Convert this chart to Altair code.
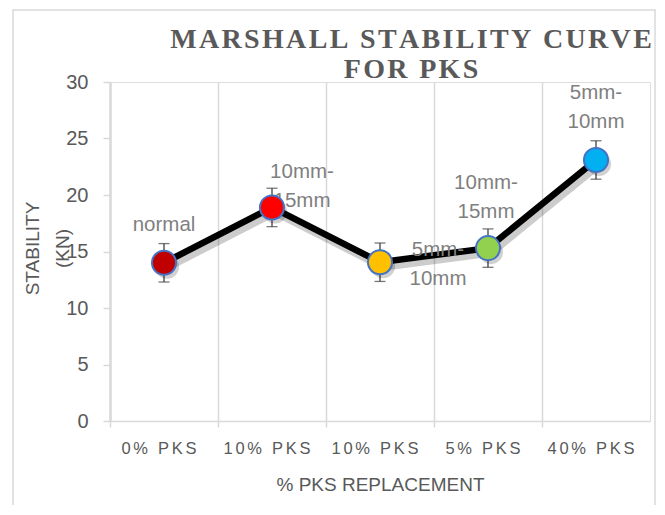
import altair as alt
import pandas as pd

# ---- data ----
categories = ["0% PKS", "10% PKS", "10% PKS", "5% PKS", "40% PKS"]
stability = [14.0, 18.9, 14.05, 15.3, 23.1]
error = [1.7, 1.7, 1.7, 1.7, 1.7]
labels = ["normal", "10mm-\n15mm", "5mm-\n10mm", "10mm-\n15mm", "5mm-\n10mm"]
colors = ["#C00000", "#FF0000", "#FFC000", "#92D050", "#00B0F0"]
y_ticks = [0, 5, 10, 15, 20, 25, 30]

HAIR = "\u200a"
SIXTH = "\u2006"


def spaced(s, sep=HAIR):
    return sep.join(list(s))


slots = [str(i) for i in range(len(categories))]
df = pd.DataFrame({
    "slot": slots,
    "stability": stability,
    "error": error,
    "label": labels,
    "color": colors,
})

label_array = "[" + ",".join("'" + spaced(c, SIXTH) + "'" for c in categories) + "]"

x_enc = alt.X(
    "slot:N",
    sort=slots,
    scale=alt.Scale(type="band", paddingInner=0, paddingOuter=0),
    axis=alt.Axis(
        title="% PKS REPLACEMENT",
        labelExpr=label_array + "[toNumber(datum.value)]",
        labelAngle=0,
        labelOffset=-5,
        bandPosition=0,
        grid=True,
        gridColor="#d9d9d9",
        gridWidth=1.5,
        domainColor="#d9d9d9",
        domainWidth=1.5,
        tickColor="#d9d9d9",
        tickSize=6,
        tickWidth=1.5,
        labelFont="Liberation Sans",
        labelFontSize=16.5,
        labelColor="#595959",
        labelPadding=13,
        titleFont="Liberation Sans",
        titleFontSize=19,
        titleFontWeight="normal",
        titleColor="#595959",
        titlePadding=19,
    ),
)

y_enc = alt.Y(
    "stability:Q",
    scale=alt.Scale(domain=[0, 30], nice=False),
    axis=alt.Axis(
        title=["STABILITY", "(KN)"],
        values=y_ticks,
        grid=False,
        domainColor="#d9d9d9",
        domainWidth=2.5,
        tickColor="#d9d9d9",
        tickSize=7,
        tickWidth=1.5,
        labelFont="Liberation Sans",
        labelFontSize=20,
        labelColor="#595959",
        labelPadding=15,
        titleFont="Liberation Sans",
        titleFontSize=19,
        titleFontWeight="normal",
        titleColor="#595959",
        titleLineHeight=30,
        titleAngle=-90,
        titleAlign="center",
        titleBaseline="middle",
        titleX=-78,
        titleY=166,
    ),
)

base = alt.Chart(df)

# outer chart-area border (decoration)
frame = alt.Chart(pd.DataFrame({"f": [0]})).mark_rect(
    fill=None, stroke="#d9d9d9", strokeWidth=1.5
).encode(
    x=alt.value(-97), x2=alt.value(545), y=alt.value(-72), y2=alt.value(440)
)

shadow_line = base.mark_line(
    color="#000000", opacity=0.2, strokeWidth=9, xOffset=3, yOffset=4
).encode(x=x_enc, y=y_enc)

line = base.mark_line(color="#000000", strokeWidth=6.5).encode(x=x_enc, y=y_enc)

err = base.transform_calculate(
    low="datum.stability - datum.error", high="datum.stability + datum.error"
)
err_rule = err.mark_rule(color="#404040", strokeWidth=1.3).encode(
    x=x_enc, y=alt.Y("low:Q"), y2="high:Q"
)
cap_low = err.mark_tick(color="#404040", size=11, thickness=1.3).encode(
    x=x_enc, y=alt.Y("low:Q")
)
cap_high = err.mark_tick(color="#404040", size=11, thickness=1.3).encode(
    x=x_enc, y=alt.Y("high:Q")
)

# (dx, dy of first line) for each data label
offsets = [(0, -38), (30, -35), (58, -12), (-2, -65), (0, -67)]
text_layers = []
for i, (dx, dy) in enumerate(offsets):
    text_layers.append(
        base.transform_filter(f"datum.slot == '{i}'").mark_text(
            font="Liberation Sans",
            fontSize=20.5,
            color="#7f7f7f",
            lineBreak="\n",
            lineHeight=29,
            align="center",
            baseline="middle",
            dx=dx,
            dy=dy,
        ).encode(x=x_enc, y=y_enc, text="label:N")
    )

shadow_pts = base.mark_circle(
    size=580, color="#000000", opacity=0.18, xOffset=3, yOffset=4
).encode(x=x_enc, y=y_enc)

points = base.mark_circle(
    size=580, opacity=1, stroke="#4472C4", strokeWidth=2
).encode(x=x_enc, y=y_enc, color=alt.Color("color:N", scale=None))

chart = alt.layer(
    frame, shadow_line, line, err_rule, cap_low, cap_high, *text_layers, shadow_pts, points
).properties(
    width=540,
    height=339,
    title=alt.TitleParams(
        text=[spaced("MARSHALL STABILITY CURVE"), spaced("FOR PKS")],
        font="Liberation Serif",
        fontWeight="bold",
        fontSize=28,
        color="#595959",
        lineHeight=30,
        anchor="middle",
        dx=31,
        offset=-75,
    ),
    autosize=alt.AutoSizeParams(type="none"),
    padding={"left": 102, "top": 74, "right": 7, "bottom": 84},
).configure_view(
    stroke="#d9d9d9", strokeWidth=2.5
).configure(background="#ffffff")

chart.save("out.html", embed_options={"renderer": "svg", "actions": False})
